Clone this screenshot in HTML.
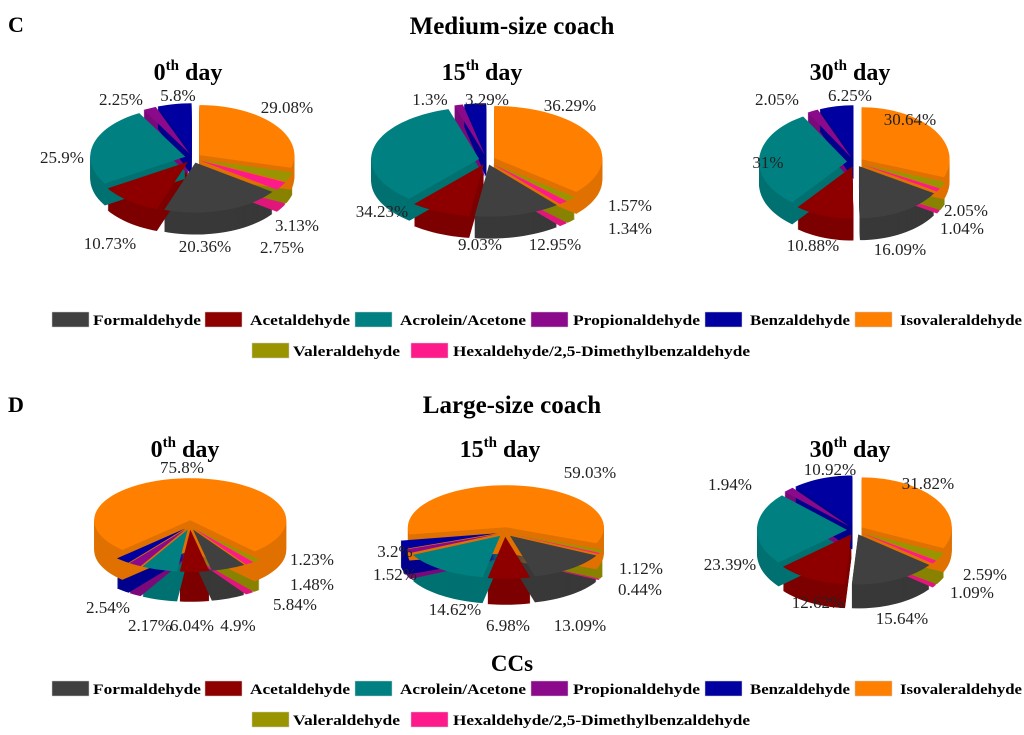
<!DOCTYPE html>
<html><head><meta charset="utf-8">
<style>
html,body{margin:0;padding:0;background:#fff;}
svg{display:block;font-family:"Liberation Serif",serif;}
</style></head>
<body>
<svg id="chart" width="1024" height="735" viewBox="0 0 1024 735">
  <text x="8" y="32" font-size="22" font-weight="bold">C</text>
  <text x="512" y="34" font-size="25" font-weight="bold" text-anchor="middle">Medium-size coach</text>
  <text x="8" y="412" font-size="22" font-weight="bold">D</text>
  <text x="512" y="413" font-size="25" font-weight="bold" text-anchor="middle">Large-size coach</text>
  <text x="512" y="671" font-size="23" font-weight="bold" text-anchor="middle">CCs</text>
  <g id="pies"></g>
  <g id="legends"></g>
</svg>
<script>
// Data order: Isovaleraldehyde, Valeraldehyde, Hexaldehyde, Formaldehyde, Acetaldehyde, Acrolein/Acetone, Propionaldehyde, Benzaldehyde
const compounds = ["Isovaleraldehyde","Valeraldehyde","Hexaldehyde/2,5-Dimethylbenzaldehyde","Formaldehyde","Acetaldehyde","Acrolein/Acetone","Propionaldehyde","Benzaldehyde"];
const medium0 = [29.08,3.13,2.75,20.36,10.73,25.9,2.25,5.8];
const medium15 = [36.29,1.57,1.34,12.95,9.03,34.23,1.3,3.29];
const medium30 = [30.64,2.05,1.04,16.09,10.88,31,2.05,6.25];
const large0 = [75.8,1.23,1.48,5.84,4.9,6.04,2.17,2.54];
const large15 = [59.03,1.12,0.44,13.09,6.98,14.62,1.52,3.2];
const large30 = [31.82,2.59,1.09,15.64,12.62,23.39,1.94,10.92];
const dayTitles = ["0","15","30"];

const colors = ["#ff8000","#9a9400","#ff1a8c","#404040","#8e0000","#008080","#8b0a8b","#0000a0"];
const legendOrder = [3,4,5,6,7,0,1,2];
const pies = [
  {id:"medium-0", data:medium0, cx:193, cy:158, rx:95, ry:50, depth:22, start:0, day:0, ty:80},
  {id:"medium-15", data:medium15, cx:487, cy:160, rx:108, ry:52, depth:22, start:0, day:1, ty:80},
  {id:"medium-30", data:medium30, cx:855, cy:162, rx:88, ry:52, depth:22, start:0, day:2, ty:80},
  {id:"large-0", data:large0, cx:190, cy:525, rx:96, ry:42, depth:30, start:-135, day:0, ty:457},
  {id:"large-15", data:large15, cx:505, cy:532, rx:98, ry:42, depth:26, start:-100, day:1, ty:457},
  {id:"large-30", data:large30, cx:855, cy:530, rx:90, ry:50, depth:24, start:0, day:2, ty:457}
];
const labelPos = {
  "medium-0":[[287,113],[297,231],[282,253],[205,252],[110,249],[62,163],[121,105],[178,101]],
  "medium-15":[[570,111],[630,211],[630,234],[555,250],[480,250],[382,217],[430,105],[487,105]],
  "medium-30":[[910,125],[966,216],[962,234],[900,255],[813,251],[768,168],[777,105],[850,101]],
  "large-0":[[182,473],[312,565],[312,590],[295,610],[238,631],[192,631],[150,631],[108,613]],
  "large-15":[[590,478],[641,574],[640,595],[580,631],[508,631],[455,615],[395,580],[395,557]],
  "large-30":[[928,489],[985,580],[972,598],[902,624],[818,608],[730,570],[730,490],[830,475]]
};
const NS="http://www.w3.org/2000/svg";
function mk(tag,attrs,parent){const e=document.createElementNS(NS,tag);for(const k in attrs)e.setAttribute(k,attrs[k]);parent.appendChild(e);return e;}
function shade(hex,f){const n=parseInt(hex.slice(1),16);const r=Math.round(((n>>16)&255)*f),g=Math.round(((n>>8)&255)*f),b=Math.round((n&255)*f);return `rgb(${r},${g},${b})`;}
function wedgePath(cx,cy,rx,ry,a0,a1){
  const pts=[`M${cx},${cy}`];const steps=Math.max(2,Math.ceil((a1-a0)/3));
  for(let i=0;i<=steps;i++){const a=(a0+(a1-a0)*i/steps)*Math.PI/180;pts.push(`L${(cx+rx*Math.sin(a)).toFixed(2)},${(cy-ry*Math.cos(a)).toFixed(2)}`);}
  return pts.join("")+"Z";
}
const root=document.getElementById("pies");
pies.forEach(p=>{
  const g=mk("g",{},root);
  
  
  const t=mk("text",{x:p.cx-5,y:p.ty,"font-size":24,"font-weight":"bold","text-anchor":"middle"},g);
  
  
  t.innerHTML=dayTitles[p.day]+'<tspan font-size="15" dy="-10">th</tspan><tspan dy="10"> day</tspan>';
  const total=p.data.reduce((a,b)=>a+b,0);
  let acc=p.start;
  const slices=p.data.map((v,i)=>{const a0=acc;const a1=acc+v/total*360;acc=a1;return {i,v,a0,a1,mid:(a0+a1)/2};});
  slices.sort((a,b)=>(-Math.cos(b.mid*Math.PI/180))-(-Math.cos(a.mid*Math.PI/180)));
  const sidesG=mk("g",{},g);
  
  
  const topsG=mk("g",{},g);
  
  
  slices.forEach(s=>{
    const m=s.mid*Math.PI/180, ex=8;
    const cx=p.cx+ex*Math.sin(m), cy=p.cy-ex*0.6*Math.cos(m);
    for(let d=p.depth;d>0;d-=1){
      mk("path",{d:wedgePath(cx,cy+d,p.rx,p.ry,s.a0,s.a1),fill:shade(colors[s.i],0.88)},sidesG);
    }
    const top=mk("path",{d:wedgePath(cx,cy,p.rx,p.ry,s.a0,s.a1),fill:colors[s.i]},topsG);
    
    
  });
  labelPos[p.id].forEach((pos,i)=>{
    const l=mk("text",{x:pos[0],y:pos[1],"font-size":17,"text-anchor":"middle",fill:"#222"},g);
    
    
    l.textContent=p.data[i]+"%";
  });
});
// legends
const legRoot=document.getElementById("legends");
const legRow1=[[52,93,108],[205,250,100],[355,400,126],[531,573,127],[705,750,100],[855,900,122]];
const legRow2=[[252,293,107],[411,453,297]];
[[312,343],[681,712]].forEach((ys,li)=>{
  const lg=mk("g",{},legRoot);
  
  
  legendOrder.forEach((ci,k)=>{
    const pos=k<6?legRow1[k]:legRow2[k-6];
    const y=k<6?ys[0]:ys[1];
    const e=mk("g",{},lg);
    
    
    mk("rect",{x:pos[0],y:y,width:37,height:15,fill:colors[ci],stroke:"#ccc","stroke-width":0.5},e);
    const tx=mk("text",{x:pos[1],y:y+13,"font-size":15,"font-weight":"bold",textLength:pos[2],lengthAdjust:"spacingAndGlyphs"},e);
    tx.textContent=compounds[ci];
  });
});
</script>
</body></html>
